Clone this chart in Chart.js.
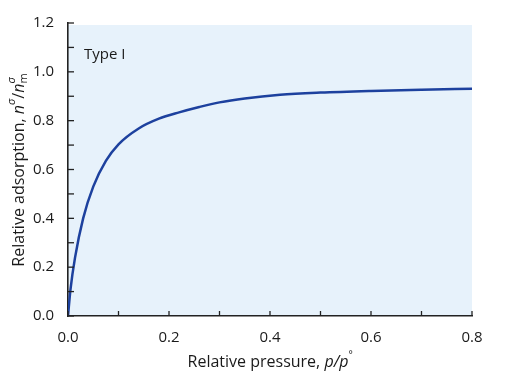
<!DOCTYPE html>
<html><head><meta charset="utf-8">
<script src="https://cdn.jsdelivr.net/npm/chart.js@4.4.0/dist/chart.umd.min.js"></script>
<style>html,body{margin:0;padding:0;background:#fff}#wrap{width:509px;height:386px}</style>
</head><body><div id="wrap"><canvas id="c" width="509" height="386"></canvas></div>
<script>
const pressure = [0, 0.005, 0.014, 0.03, 0.05, 0.075, 0.1, 0.14, 0.18, 0.22, 0.26, 0.3, 0.35, 0.42, 0.5, 0.6, 0.7, 0.8];
const adsorption = [0, 0.11, 0.24, 0.40, 0.53, 0.635, 0.703, 0.768, 0.808, 0.834, 0.856, 0.875, 0.891, 0.906, 0.915, 0.922, 0.927, 0.931];
const xTicks = [0, 0.2, 0.4, 0.6, 0.8];
const yTicks = [0, 0.2, 0.4, 0.6, 0.8, 1.0, 1.2];
const panelLabel = 'Type I';
const FONT = '"Open Sans", "Noto Sans", sans-serif';
const TXT = '#1a1a1a';

const decor = {
  id: 'decor',
  beforeDraw(chart) {
    const {ctx, chartArea: a} = chart;
    ctx.save();
    ctx.fillStyle = '#e7f2fb';
    ctx.fillRect(a.left, a.top + 2, a.right - a.left, a.bottom - a.top - 2);
    ctx.restore();
  },
  afterDraw(chart) {
    const {ctx, chartArea: a, scales: {x, y}} = chart;
    ctx.save();
    ctx.strokeStyle = '#222';
    ctx.lineWidth = 1.3;
    for (let v = 0; v <= 0.8001; v += 0.1) {
      const px = x.getPixelForValue(v);
      ctx.beginPath(); ctx.moveTo(px, a.bottom); ctx.lineTo(px, a.bottom - 5); ctx.stroke();
    }
    for (let v = 0; v <= 1.2001; v += 0.1) {
      const py = y.getPixelForValue(v);
      ctx.beginPath(); ctx.moveTo(a.left, py); ctx.lineTo(a.left + 6, py); ctx.stroke();
    }
    ctx.fillStyle = TXT;
    ctx.font = '15px ' + FONT;
    ctx.textBaseline = 'middle';
    ctx.fillText(panelLabel, 84, 55);
    // x title
    const t1 = 'Relative pressure, ';
    const t2 = 'p/p';
    ctx.font = '16px ' + FONT;
    const w1 = ctx.measureText(t1).width;
    ctx.font = 'italic 16px ' + FONT;
    const w2 = ctx.measureText(t2).width;
    let sx = 270 - (w1 + w2 + 4) / 2;
    ctx.font = '16px ' + FONT;
    ctx.fillText(t1, sx, 362);
    ctx.font = 'italic 16px ' + FONT;
    ctx.fillText(t2, sx + w1, 362);
    ctx.font = '10px ' + FONT;
    ctx.fillText('°', sx + w1 + w2, 355);
    // y title rotated
    ctx.translate(19, 170);
    ctx.rotate(-Math.PI / 2);
    const parts = [
      {t: 'Relative adsorption, ', f: '16px ' + FONT, dy: 0},
      {t: 'n', f: 'italic 16px ' + FONT, dy: 0},
      {t: 'σ', f: 'italic 11px ' + FONT, dy: -7},
      {t: '/', f: '16px ' + FONT, dy: 0},
      {t: 'n', f: 'italic 16px ' + FONT, dy: 0},
      {t: 'σ', f: 'italic 11px ' + FONT, dy: -7},
      {t: 'm', f: '11px ' + FONT, dy: 5, back: true}
    ];
    let total = 0, prevW = 0;
    for (const p of parts) { ctx.font = p.f; const w = ctx.measureText(p.t).width; if (p.back) { total += Math.max(0, w - prevW); } else { total += w; } prevW = w; }
    let cx = -total / 2; let prevX = cx;
    for (const p of parts) {
      ctx.font = p.f;
      const w = ctx.measureText(p.t).width;
      if (p.back) { ctx.fillText(p.t, prevX, p.dy); cx = Math.max(cx, prevX + w); }
      else { ctx.fillText(p.t, cx, p.dy); prevX = cx; cx += w; }
    }
    ctx.restore();
  }
};

new Chart(document.getElementById('c'), {
  type: 'line',
  data: {
    datasets: [{
      data: pressure.map((p, i) => ({x: p, y: adsorption[i]})),
      borderColor: '#1d419e',
      borderWidth: 2.5,
      pointRadius: 0,
      fill: false,
      cubicInterpolationMode: 'monotone'
    }]
  },
  options: {
    responsive: false,
    animation: false,
    layout: {padding: {top: 23, right: 37, left: 0, bottom: 0}},
    plugins: {legend: {display: false}, tooltip: {enabled: false}},
    scales: {
      x: {
        type: 'linear', min: 0, max: 0.8,
        afterBuildTicks: s => { s.ticks = xTicks.map(v => ({value: v})); },
        afterFit: s => { s.height = 70; },
        grid: {display: false},
        border: {display: true, color: '#222', width: 1.6},
        ticks: {color: TXT, padding: 5, font: {family: FONT, size: 15}, callback: v => v.toFixed(1)}
      },
      y: {
        min: 0, max: 1.2,
        afterBuildTicks: s => { s.ticks = yTicks.map(v => ({value: v})); },
        afterFit: s => { s.width = 68; },
        grid: {display: false},
        border: {display: true, color: '#222', width: 1.6},
        ticks: {color: TXT, padding: 6, font: {family: FONT, size: 15}, callback: v => v.toFixed(1)}
      }
    }
  },
  plugins: [decor]
});
</script></body></html>
